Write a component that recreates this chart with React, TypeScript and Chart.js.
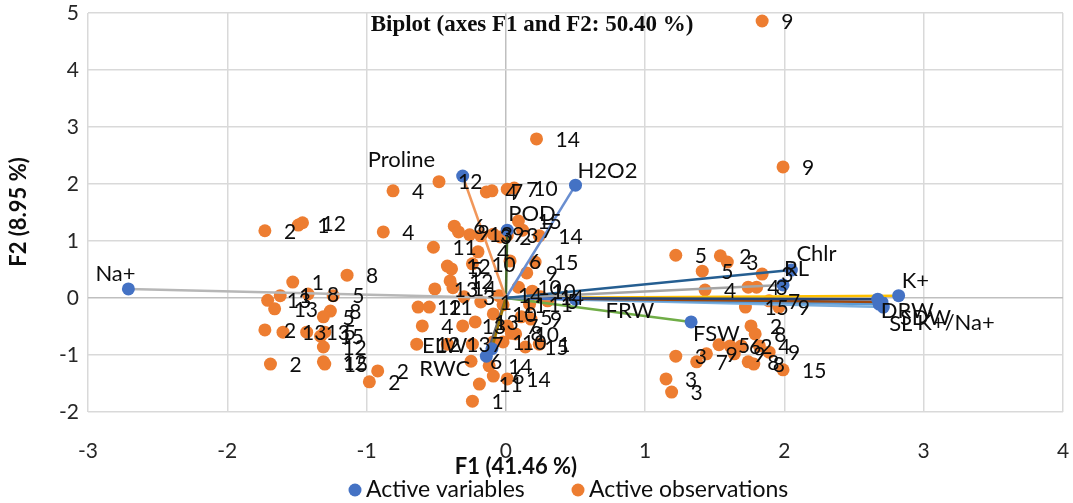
import React, { useEffect, useRef } from "react";
import { Chart, registerables } from "chart.js";

Chart.register(...registerables);

const chartTitle = "Biplot (axes F1 and F2: 50.40 %)";
const xAxisTitle = "F1 (41.46 %)";
const yAxisTitle = "F2 (8.95 %)";
const legendLabels = ["Active variables", "Active observations"];
const xTickValues = [-3, -2, -1, 0, 1, 2, 3, 4];
const yTickValues = [-2, -1, 0, 1, 2, 3, 4, 5];

// Active variables (loadings)
const varNames = ["Na+", "Proline", "H2O2", "POD", "Chlr", "RL", "FRW", "FSW", "ELW", "RWC", "DRW", "K+", "SDW", "SL", "K+/Na+"];
const varF1 = [-2.71, -0.31, 0.5, 0.01, 2.05, 1.99, 0.5, 1.33, -0.1, -0.14, 2.67, 2.82, 2.7, 2.68, 2.71];
const varF2 = [0.16, 2.14, 1.98, 1.19, 0.49, 0.23, -0.02, -0.42, -0.89, -1.02, -0.02, 0.04, -0.07, -0.11, -0.16];

// Active observations
const obsLabels = [
  "9", "14", "9", "4", "12", "4", "7", "7", "10", "2", "1", "12", "4", "6", "9", "13", "3", "9", "2", "15",
  "3", "7", "14", "11", "4", "10", "12", "5", "6", "15", "9", "12", "13", "14", "10", "10", "14", "11", "12", "11",
  "10", "5", "9", "4", "13", "7", "10", "12", "13", "7", "1", "10", "15", "1", "6", "14", "11", "6", "14", "1",
  "2", "2", "1", "8", "13", "1", "8", "5", "13", "8", "5", "2", "13", "13", "15", "5", "12", "2", "12", "15",
  "5", "2", "3", "5", "3", "4", "4", "3", "7", "15", "9", "2", "8", "5", "6", "2", "4", "9", "9", "7",
  "3", "9", "8", "8", "15", "3", "3", "3", "1", "14", "13", "5", "8", "11",
];
const obsF1 = [
  1.84, 0.22, 1.99, -0.81, -0.48, -0.14, -0.1, 0.01, 0.06, -1.73, -1.49, -1.46, -0.88, -0.37, -0.34, -0.26, -0.18, -0.09, -0.04, 0.09,
  0.01, 0.12, 0.24, -0.52, -0.2, -0.24, -0.42, -0.39, 0.03, 0.21, 0.15, -0.4, -0.51, -0.38, 0.09, 0.19, 0.25, 0.17, -0.63, -0.55,
  -0.09, 0.11, 0.18, -0.6, -0.31, 0.01, 0.07, -0.64, -0.42, -0.24, -0.09, -0.02, 0.14, 0.24, -0.25, -0.12, -0.19, -0.09, 0.01, -0.24,
  -0.92, -0.98, -1.53, -1.14, -1.71, -1.62, -1.42, -1.24, -1.66, -1.26, -1.31, -1.73, -1.6, -1.43, -1.33, -1.3, -1.31, -1.69, -1.31, -1.3,
  1.22, 1.54, 1.59, 1.41, 1.84, 1.43, 1.74, 1.8, 1.89, 1.72, 1.96, 1.76, 1.79, 1.53, 1.61, 1.69, 1.82, 1.89, 1.44, 1.37,
  1.22, 1.64, 1.74, 1.78, 1.99, 1.15, 1.19, -0.3, -0.18, -0.05, -0.22, 0.3, 0.04, -0.02,
];
const obsF2 = [
  4.86, 2.79, 2.3, 1.88, 2.04, 1.86, 1.88, 1.91, 1.93, 1.18, 1.28, 1.32, 1.16, 1.26, 1.16, 1.11, 1.09, 1.12, 1.07, 1.35,
  1.1, 1.19, 1.09, 0.89, 0.81, 0.6, 0.56, 0.51, 0.65, 0.63, 0.44, 0.3, 0.16, 0.18, 0.19, 0.12, 0.02, -0.11, -0.16, -0.16,
  -0.28, -0.33, -0.37, -0.49, -0.49, -0.49, -0.63, -0.81, -0.81, -0.81, -0.77, -0.77, -0.86, -0.81, -1.11, -1.19, -1.51, -1.37, -1.42, -1.81,
  -1.28, -1.47, 0.28, 0.4, -0.04, 0.04, 0.07, 0.04, -0.19, -0.23, -0.33, -0.56, -0.6, -0.6, -0.67, -0.6, -0.86, -1.16, -1.12, -1.16,
  0.75, 0.74, 0.63, 0.47, 0.42, 0.14, 0.19, 0.19, -0.05, -0.16, -0.16, -0.49, -0.63, -0.82, -0.84, -0.84, -0.84, -0.95, -0.98, -1.12,
  -1.02, -0.98, -1.12, -1.16, -1.26, -1.42, -1.65, 0.02, -0.07, 0.04, -0.42, -0.05, -0.62, -0.12,
];

// Styling
const varColors = [
  "#B7B7B7", "#F1975A", "#698ED0", "#43682B", "#255E91", "#A5A5A5", "#4472C4", "#70AD47",
  "#997300", "#636363", "#264478", "#FFC000", "#9E480E", "#5B9BD5", "#7CAFDD",
];
const varLabelOffsets: [number, number][] = [
  [-33, -15], [-95, -16], [2, -14], [1, -16], [5, -16], [1, -16], [30, 12], [2, 12],
  [-70, -3], [-67, 13], [3, 12], [3, -15], [18, 16], [10, 20], [34, 16],
];
const BLUE = "#4472C4";
const ORANGE = "#ED7D31";
const OBS_FONT = "21px Lato";
const VAR_FONT = "22px Lato";

const overlayPlugin = {
  id: "overlay",
  afterDatasetsDraw(chart: any) {
    const ctx = chart.ctx;
    ctx.save();
    ctx.fillStyle = "#0d0d0d";
    ctx.textBaseline = "middle";
    ctx.textAlign = "left";
    ctx.font = OBS_FONT;
    const om = chart.getDatasetMeta(0);
    om.data.forEach((el: any, i: number) => {
      ctx.fillText(obsLabels[i], el.x + 19, el.y + 1);
    });
    ctx.font = VAR_FONT;
    varNames.forEach((n, i) => {
      const m = chart.getDatasetMeta(i + 1);
      const el = m.data[1];
      const [dx, dy] = varLabelOffsets[i];
      ctx.fillText(n, el.x + dx, el.y + dy);
    });
    ctx.restore();
  },
  afterDraw(chart: any) {
    const ctx = chart.ctx;
    ctx.save();
    ctx.fillStyle = "#0d0d0d";
    ctx.textBaseline = "middle";
    ctx.textAlign = "center";
    ctx.font = "bold 23px 'Liberation Serif'";
    ctx.fillText(chartTitle, 532, 25);
    ctx.font = "bold 22px Lato";
    ctx.fillText(xAxisTitle, 516, 467);
    ctx.save();
    ctx.translate(19, 212);
    ctx.rotate(-Math.PI / 2);
    ctx.fillText(yAxisTitle, 0, 0);
    ctx.restore();
    // legend
    ctx.font = "23px Lato";
    ctx.textAlign = "left";
    const items = [
      { x: 355, color: BLUE, text: legendLabels[0] },
      { x: 578, color: ORANGE, text: legendLabels[1] },
    ];
    items.forEach((it) => {
      ctx.beginPath();
      ctx.fillStyle = it.color;
      ctx.arc(it.x, 490, 6.5, 0, Math.PI * 2);
      ctx.fill();
      ctx.fillStyle = "#0d0d0d";
      ctx.fillText(it.text, it.x + 11, 490);
    });
    ctx.restore();
  },
};

export default function App() {
  const ref = useRef<HTMLCanvasElement | null>(null);
  useEffect(() => {
    if (!ref.current) return;
    const observations = {
      type: "scatter",
      label: legendLabels[1],
      data: obsF1.map((x, i) => ({ x, y: obsF2[i] })),
      pointRadius: 6.5,
      pointBackgroundColor: ORANGE,
      pointBorderWidth: 0,
      showLine: false,
      order: 10,
    };
    const variables = varNames.map((n, i) => ({
      type: "scatter",
      label: n,
      data: [
        { x: 0, y: 0 },
        { x: varF1[i], y: varF2[i] },
      ],
      showLine: true,
      borderColor: varColors[i],
      borderWidth: 2.5,
      pointRadius: [0, 6.5],
      pointBackgroundColor: BLUE,
      pointBorderWidth: 0,
      order: 1,
    }));
    const gridColor = (c: any) => (c.tick && c.tick.value === 0 ? "#BFBFBF" : "#D9D9D9");
    const chart = new Chart(ref.current, {
      type: "scatter",
      data: { datasets: [observations, ...variables] as any },
      options: {
        responsive: false,
        animation: false,
        devicePixelRatio: 1,
        layout: { padding: { left: 0, right: 10, top: 13, bottom: 0 } },
        plugins: {
          legend: { display: false },
          title: { display: false },
          tooltip: { enabled: false },
        },
        scales: {
          x: {
            type: "linear",
            min: -3,
            max: 4,
            afterBuildTicks: (s: any) => {
              s.ticks = xTickValues.map((v) => ({ value: v }));
            },
            afterFit: (s: any) => {
              s.height = 91;
              s.paddingLeft = 0;
              s.paddingRight = 0;
            },
            ticks: { padding: 27, color: "#262626", font: { family: "Lato", size: 21 } },
            grid: { color: gridColor, lineWidth: 1.5, drawTicks: false },
            border: { display: false },
          },
          y: {
            type: "linear",
            min: -2,
            max: 5,
            afterBuildTicks: (s: any) => {
              s.ticks = yTickValues.map((v) => ({ value: v }));
            },
            afterFit: (s: any) => {
              s.width = 88;
              s.paddingTop = 0;
              s.paddingBottom = 0;
            },
            ticks: { padding: 9, color: "#262626", font: { family: "Lato", size: 21 } },
            grid: { color: gridColor, lineWidth: 1.5, drawTicks: false },
            border: { display: false },
          },
        },
      } as any,
      plugins: [overlayPlugin],
    });
    return () => chart.destroy();
  }, []);
  return (
    <div style={{ position: "absolute", left: 0, top: 0, width: 1073, height: 503, background: "#fff" }}>
      <canvas ref={ref} width={1073} height={503} style={{ display: "block" }} />
    </div>
  );
}
